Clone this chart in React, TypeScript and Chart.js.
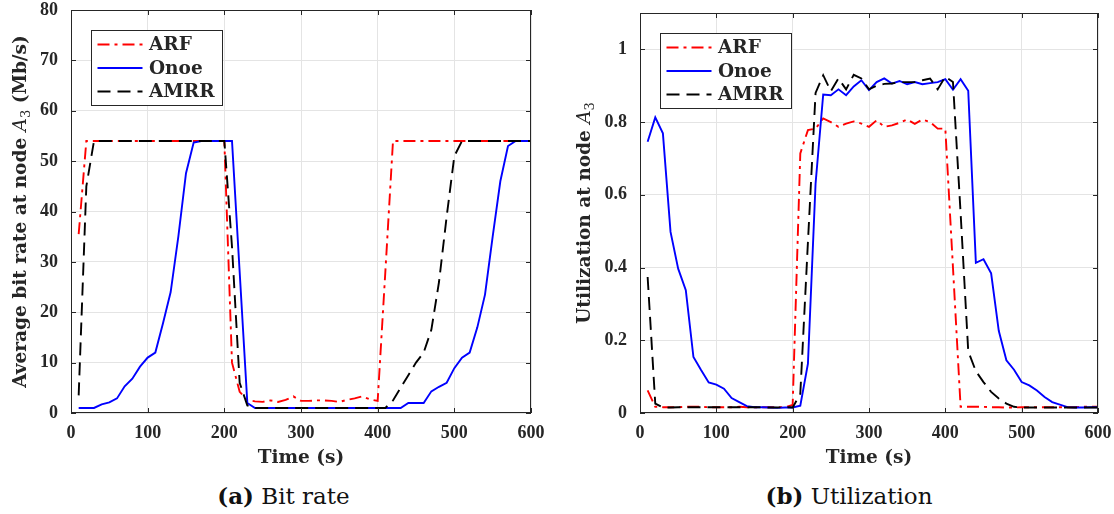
import React, { useEffect, useRef } from 'react';
import { Chart, registerables } from 'chart.js';

Chart.register(...registerables);

// ---------------- data ----------------
const times = [
  10, 20, 30, 40, 50, 60, 70, 80, 90, 100,
  110, 120, 130, 140, 150, 160, 170, 180, 190, 200,
  210, 220, 230, 240, 250, 260, 270, 280, 290, 300,
  310, 320, 330, 340, 350, 360, 370, 380, 390, 400,
  410, 420, 430, 440, 450, 460, 470, 480, 490, 500,
  510, 520, 530, 540, 550, 560, 570, 580, 590, 600,
];

const xTicks = [0, 100, 200, 300, 400, 500, 600];
const bitTicks = [0, 10, 20, 30, 40, 50, 60, 70, 80];
const utilTicks = [0, 0.2, 0.4, 0.6, 0.8, 1];

const seriesNames = ['ARF', 'Onoe', 'AMRR'];

// (a) Bit rate (Mb/s)
const bitArf = [
  35.5, 54, 54, 54, 54, 54, 54, 54, 54, 54,
  54, 54, 54, 54, 54, 54, 54, 54, 54, 54,
  10, 4.2, 2.6, 2.3, 2.2, 2.5, 2.2, 2.6, 3.3, 2.4,
  2.4, 2.5, 2.5, 2.4, 2.2, 2.6, 2.9, 3.3, 2.7, 2.4,
  28, 54, 54, 54, 54, 54, 54, 54, 54, 54,
  54, 54, 54, 54, 54, 54, 54, 54, 54, 54,
];
const bitOnoe = [
  1, 1, 1, 1.7, 2.1, 2.9, 5.3, 6.8, 9.2, 11,
  12, 17.8, 24, 35, 47.6, 53.7, 54, 54, 54, 54,
  54, 28, 2, 1, 1, 1, 1, 1, 1, 1,
  1, 1, 1, 1, 1, 1, 1, 1, 1, 1,
  1, 1, 1, 2, 2, 2, 4.3, 5.2, 6, 8.9,
  11, 12, 17, 23.5, 35, 46, 53, 54, 54, 54,
];
const bitAmrr = [
  3.5, 45, 54, 54, 54, 54, 54, 54, 54, 54,
  54, 54, 54, 54, 54, 54, 54, 54, 54, 54,
  33, 6, 1.5, 1, 1, 1, 1, 1, 1, 1,
  1, 1, 1, 1, 1, 1, 1, 1, 1, 1,
  1, 2.5, 5, 7.5, 10, 12, 16.5, 26, 39, 51,
  54, 54, 54, 54, 54, 54, 54, 54, 54, 54,
];

// (b) Utilization
const utilArf = [
  0.062, 0.017, 0.016, 0.016, 0.016, 0.017, 0.017, 0.017, 0.016, 0.016,
  0.016, 0.016, 0.017, 0.016, 0.016, 0.016, 0.016, 0.016, 0.016, 0.022,
  0.714, 0.778, 0.782, 0.81, 0.8, 0.787, 0.796, 0.802, 0.796, 0.787,
  0.805, 0.787, 0.791, 0.798, 0.807, 0.795, 0.807, 0.8, 0.782, 0.782,
  0.4, 0.017, 0.017, 0.017, 0.017, 0.016, 0.016, 0.015, 0.015, 0.016,
  0.016, 0.016, 0.016, 0.016, 0.016, 0.016, 0.016, 0.017, 0.017, 0.017,
];
const utilOnoe = [
  0.746, 0.813, 0.769, 0.498, 0.397, 0.338, 0.154, 0.118, 0.084, 0.078,
  0.067, 0.041, 0.03, 0.019, 0.016, 0.016, 0.015, 0.014, 0.015, 0.015,
  0.02, 0.136, 0.631, 0.876, 0.874, 0.89, 0.874, 0.898, 0.915, 0.888,
  0.91, 0.92, 0.906, 0.913, 0.904, 0.91, 0.904, 0.907, 0.91, 0.918,
  0.889, 0.918, 0.886, 0.413, 0.423, 0.384, 0.226, 0.145, 0.119, 0.085,
  0.076, 0.062, 0.044, 0.03, 0.023, 0.016, 0.015, 0.015, 0.016, 0.016,
];
const utilAmrr = [
  0.374, 0.026, 0.015, 0.015, 0.016, 0.016, 0.016, 0.016, 0.016, 0.016,
  0.016, 0.016, 0.016, 0.016, 0.016, 0.016, 0.015, 0.015, 0.016, 0.015,
  0.053, 0.47, 0.88, 0.929, 0.885, 0.92, 0.89, 0.93, 0.92, 0.89,
  0.9, 0.905, 0.906, 0.91, 0.91, 0.91, 0.915, 0.92, 0.89, 0.925,
  0.91, 0.55, 0.17, 0.115, 0.085, 0.058, 0.04, 0.026, 0.017, 0.015,
  0.015, 0.015, 0.015, 0.015, 0.015, 0.015, 0.015, 0.015, 0.015, 0.015,
];

// ---------------- styling ----------------
const TEXT = '#262626';
const GRID = '#e4e4e4';
const TICK_FONT = { family: "'Liberation Serif', serif", size: 18, weight: 'bold' as const };
const TITLE_FONT = "bold 18.5px 'DejaVu Serif', serif";
const ITALIC_FONT = "italic 18.5px 'DejaVu Serif', serif";
const SUB_FONT = "13px 'DejaVu Serif', serif";
const LEGEND_FONT = "bold 18.5px 'DejaVu Serif', serif";

const seriesStyles = [
  { color: '#ff0000', dash: [12, 5, 3, 5], order: 2 },
  { color: '#0000ff', dash: [] as number[], order: 1 },
  { color: '#000000', dash: [13, 7], order: 0 },
];

type Seg = { text: string; font: string; dy?: number };

const decorPlugin = {
  id: 'decor',
  afterDatasetsDraw(chart: any) {
    const { ctx, chartArea: a, scales } = chart;
    ctx.save();
    ctx.strokeStyle = TEXT;
    ctx.lineWidth = 1;
    ctx.setLineDash([]);
    ctx.strokeRect(a.left + 0.5, a.top + 0.5, a.right - a.left - 1, a.bottom - a.top - 1);
    const L = 5;
    ctx.beginPath();
    scales.x.ticks.forEach((t: any) => {
      const px = Math.round(scales.x.getPixelForValue(t.value)) + 0.5;
      ctx.moveTo(px, a.bottom);
      ctx.lineTo(px, a.bottom - L);
      ctx.moveTo(px, a.top);
      ctx.lineTo(px, a.top + L);
    });
    scales.y.ticks.forEach((t: any) => {
      const py = Math.round(scales.y.getPixelForValue(t.value)) + 0.5;
      ctx.moveTo(a.left, py);
      ctx.lineTo(a.left + L, py);
      ctx.moveTo(a.right, py);
      ctx.lineTo(a.right - L, py);
    });
    ctx.stroke();
    ctx.restore();
  },
  afterDraw(chart: any, _args: any, opts: any) {
    const { ctx, chartArea: a } = chart;
    ctx.save();
    // legend box
    const bx = Math.round(a.left + 19.5) + 0.5;
    const by = Math.round(a.top + 19.5) + 0.5;
    const bw = 131;
    const bh = 75;
    ctx.fillStyle = '#ffffff';
    ctx.fillRect(bx, by, bw, bh);
    ctx.strokeStyle = TEXT;
    ctx.lineWidth = 1;
    ctx.strokeRect(bx, by, bw, bh);
    chart.data.datasets.forEach((ds: any, i: number) => {
      const base = by + 19.5 + i * 23.5;
      const ly = base - 5.5;
      ctx.beginPath();
      ctx.setLineDash(ds.borderDash || []);
      ctx.strokeStyle = ds.borderColor;
      ctx.lineWidth = ds.borderWidth;
      ctx.moveTo(bx + 6, ly);
      ctx.lineTo(bx + 51, ly);
      ctx.stroke();
      ctx.setLineDash([]);
      ctx.font = LEGEND_FONT;
      ctx.fillStyle = TEXT;
      ctx.textAlign = 'left';
      ctx.textBaseline = 'alphabetic';
      ctx.fillText(ds.label, bx + 57.5, base);
    });

    // x title
    ctx.font = TITLE_FONT;
    ctx.fillStyle = TEXT;
    ctx.textAlign = 'center';
    ctx.textBaseline = 'alphabetic';
    ctx.fillText(opts.xTitle, (a.left + a.right) / 2, opts.xTitleY);

    // y title (rotated, mixed fonts)
    const segs: Seg[] = opts.yTitle;
    const widths = segs.map((s) => {
      ctx.font = s.font;
      return ctx.measureText(s.text).width;
    });
    const total = widths.reduce((p, c) => p + c, 0);
    ctx.translate(opts.yTitleX, (a.top + a.bottom) / 2);
    ctx.rotate(-Math.PI / 2);
    ctx.textAlign = 'left';
    let x = -total / 2;
    segs.forEach((s, i) => {
      ctx.font = s.font;
      ctx.fillText(s.text, x, s.dy || 0);
      x += widths[i];
    });
    ctx.restore();
  },
};

function makeConfig(
  values: number[][],
  yTicks: number[],
  yMax: number,
  yWidth: number,
  padTop: number,
  padRight: number,
  yTitle: Seg[],
  yTitleX: number,
): any {
  return {
    type: 'line',
    data: {
      datasets: values.map((arr, i) => ({
        label: seriesNames[i],
        data: times.map((t, j) => ({ x: t, y: arr[j] })),
        borderColor: seriesStyles[i].color,
        borderDash: seriesStyles[i].dash,
        borderWidth: 1.9,
        pointRadius: 0,
        tension: 0,
        fill: false,
        order: seriesStyles[i].order,
      })),
    },
    options: {
      animation: false,
      responsive: false,
      devicePixelRatio: 1,
      layout: { padding: { left: 0, top: padTop, right: padRight, bottom: 0 } },
      plugins: {
        legend: { display: false },
        tooltip: { enabled: false },
        decor: { xTitle: 'Time (s)', xTitleY: 463, yTitle, yTitleX },
      },
      scales: {
        x: {
          type: 'linear',
          min: 0,
          max: 600,
          afterBuildTicks: (s: any) => {
            s.ticks = xTicks.map((v) => ({ value: v }));
          },
          afterFit: (s: any) => {
            s.height = 62;
            s.paddingLeft = 0;
            s.paddingRight = 0;
          },
          grid: { color: GRID, lineWidth: 1, drawTicks: false },
          border: { display: false },
          ticks: {
            autoSkip: false,
            maxRotation: 0,
            padding: 10,
            color: TEXT,
            font: TICK_FONT,
            callback: (v: number) => String(v),
          },
        },
        y: {
          type: 'linear',
          min: 0,
          max: yMax,
          afterBuildTicks: (s: any) => {
            s.ticks = yTicks.map((v) => ({ value: v }));
          },
          afterFit: (s: any) => {
            s.width = yWidth;
            s.paddingTop = 0;
            s.paddingBottom = 0;
          },
          grid: { color: GRID, lineWidth: 1, drawTicks: false },
          border: { display: false },
          ticks: {
            autoSkip: false,
            padding: 13,
            color: TEXT,
            font: TICK_FONT,
            callback: (v: number) => String(v),
          },
        },
      },
    },
    plugins: [decorPlugin],
  };
}

function ChartCanvas({ build, left, width, height }: { build: () => any; left: number; width: number; height: number }) {
  const ref = useRef<HTMLCanvasElement>(null);
  useEffect(() => {
    if (!ref.current) return;
    const chart = new Chart(ref.current, build());
    return () => chart.destroy();
  }, []);
  return (
    <canvas
      ref={ref}
      width={width}
      height={height}
      style={{ position: 'absolute', left, top: 0, width, height }}
    />
  );
}

const bitTitle: Seg[] = [
  { text: 'Average bit rate at node ', font: TITLE_FONT },
  { text: 'A', font: ITALIC_FONT },
  { text: '3', font: SUB_FONT, dy: 4 },
  { text: ' (Mb/s)', font: TITLE_FONT },
];
const utilTitle: Seg[] = [
  { text: 'Utilization at node ', font: TITLE_FONT },
  { text: 'A', font: ITALIC_FONT },
  { text: '3', font: SUB_FONT, dy: 4 },
];

const captionStyle: React.CSSProperties = {
  position: 'absolute',
  top: 484,
  fontFamily: "'DejaVu Serif', serif",
  fontSize: 23,
  lineHeight: '23px',
  color: '#111',
  textAlign: 'center',
  whiteSpace: 'nowrap',
};

export default function App() {
  return (
    <div style={{ position: 'absolute', left: 0, top: 0, width: 1114, height: 514, background: '#ffffff', overflow: 'hidden' }}>
      <ChartCanvas
        left={0}
        width={560}
        height={475}
        build={() => makeConfig([bitArf, bitOnoe, bitAmrr], bitTicks, 80, 71, 10, 29, bitTitle, 26)}
      />
      <ChartCanvas
        left={560}
        width={554}
        height={475}
        build={() => makeConfig([utilArf, utilOnoe, utilAmrr], utilTicks, 1.1, 80, 13, 16, utilTitle, 30)}
      />
      <div style={{ ...captionStyle, left: 0, width: 567 }}>
        <b>(a)</b> Bit rate
      </div>
      <div style={{ ...captionStyle, left: 560, width: 578 }}>
        <b>(b)</b> Utilization
      </div>
    </div>
  );
}
